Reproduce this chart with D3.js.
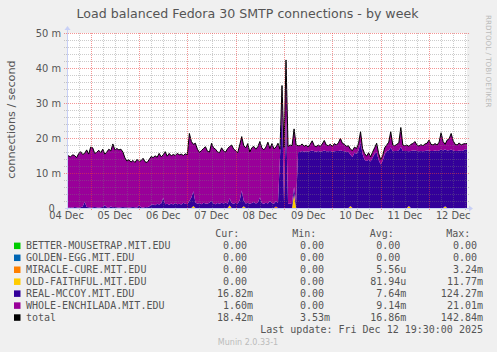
<!DOCTYPE html>
<html><head><meta charset="utf-8">
<script src="https://cdn.jsdelivr.net/npm/d3@7"></script>
<style>
body{margin:0;background:#F0F0F0}
svg{display:block}
text{font-family:"DejaVu Sans",sans-serif}
.mono{font-family:"DejaVu Sans Mono",monospace;white-space:pre}
</style>
</head><body>
<svg id="c" width="497" height="352"></svg>
<script>
// ---- data (hourly samples, index 0 = 2025-12-04 12:00 UTC), values in milli-connections/s ----
const realMccoy = [
0.2,0.1,0.2,0.1,0.3,0.2,0.1,0.2,0.4,1.8,
0.3,0.2,0.1,0.2,0.3,0.2,0.1,0.2,0.3,0.8,
0.2,0.1,0.4,0.2,0.3,0.2,0.1,0.2,0.3,0.2,
0.2,0.1,0.2,0.3,0.2,0.1,0.8,0.2,0.1,0.3,
0.2,0.4,0.9,1.1,0.8,1.2,1.0,1.3,2.9,1.1,
1.2,0.9,1.3,1.0,1.4,1.1,1.2,1.0,1.5,1.2,
1.1,2.0,3.0,4.2,1.6,1.2,1.4,1.1,1.5,1.3,
1.2,1.6,2.0,1.3,1.1,1.4,1.2,1.5,1.3,1.6,
1.2,2.0,1.4,1.2,1.5,1.3,2.2,5.0,1.6,1.3,
1.5,1.2,1.4,1.7,1.3,1.5,3.0,1.4,1.2,1.5,
1.3,2.0,1.4,1.2,1.5,1.5,14.5,30.0,1.5,26.0,
1.2,1.2,1.4,2.0,1.5,16.0,16.0,16.3,16.1,16.2,
16.1,16.3,16.4,16.2,16.1,16.3,16.1,16.2,16.4,16.2,
16.2,16.3,16.1,16.2,16.3,16.3,16.5,16.3,16.2,16.0,
16.1,14.6,14.6,15.8,15.5,16.4,18.8,15.4,13.8,13.4,
13.8,13.3,14.4,15.5,15.9,13.7,12.4,13.5,15.4,16.3,
16.4,17.3,16.2,16.3,16.3,16.4,17.5,16.3,16.3,16.3,
15.6,16.3,16.4,16.4,16.3,16.2,16.3,16.2,16.3,16.4,
16.4,16.3,16.3,16.4,16.3,16.4,16.7,16.4,16.3,16.4,
16.5,16.7,16.4,16.3,16.3,16.4,16.3,16.4,16.8,16.8];
const wholeEnchilada = [
14.9,14.8,14.4,15.1,14.7,14.2,15.4,15.9,14.9,13.8,
16.3,15.2,17.3,17.0,15.3,15.7,16.4,15.6,16.5,14.6,
15.8,16.7,15.9,18.1,16.3,16.8,16.5,16.6,15.7,14.1,
13.2,13.7,12.9,13.3,12.8,13.8,12.5,13.3,14.1,12.9,
12.8,13.4,13.8,13.3,14.1,13.3,14.6,13.3,12.3,15.0,
13.6,14.7,13.6,14.3,13.6,14.5,14.0,14.4,13.5,14.3,
14.1,19.3,16.0,13.4,16.9,15.6,14.5,15.3,15.5,16.2,
15.0,14.4,16.5,15.9,15.7,14.6,14.6,15.7,15.0,14.4,
15.8,14.8,16.6,15.6,14.9,14.5,15.8,15.4,15.7,15.9,
16.9,14.8,15.8,15.9,15.5,16.0,16.0,15.8,15.4,15.9,
17.5,15.0,17.0,15.7,15.5,17.0,2.3,5.0,15.8,16.3,
16.4,16.8,16.4,16.6,16.5,1.8,1.8,2.0,1.5,1.8,
1.3,1.9,2.8,1.6,1.4,1.7,1.5,2.1,2.9,1.8,
1.6,1.9,1.5,2.2,1.7,2.3,3.4,2.2,2.0,1.6,
1.7,1.6,1.8,1.6,1.5,2.0,3.0,1.6,1.8,1.4,
2.0,1.3,1.6,1.7,2.6,1.9,1.4,1.5,1.8,1.7,
2.4,4.5,1.8,1.5,1.9,2.2,5.5,1.7,1.5,1.7,
1.4,1.9,2.0,2.6,1.7,1.5,1.8,1.6,2.0,2.1,
3.0,1.9,1.7,2.0,1.7,2.4,4.8,2.6,1.4,3.0,
3.3,4.6,2.8,1.9,1.7,2.2,1.7,1.9,1.6,1.6];
// sparse series: [sample index, value]
const oldFaithfulSpikes = [[63,0.6],[81,0.8],[88,0.5],[113,4.0],[141,0.6],[170,0.6],[188,0.5]];
const miracleCureSpikes = [[104,0.4]];
const betterMousetrapSpikes = [];
const goldenEggSpikes = [];

const seriesNames = ["BETTER-MOUSETRAP.MIT.EDU","GOLDEN-EGG.MIT.EDU","MIRACLE-CURE.MIT.EDU","OLD-FAITHFUL.MIT.EDU","REAL-MCCOY.MIT.EDU","WHOLE-ENCHILADA.MIT.EDU","total"];
const seriesColors = ["#00CC00","#0066B3","#FF8000","#FFCC00","#330099","#990099","#000000"];
const curVals = ["0.00 ","0.00 ","0.00 ","0.00 ","16.82m","1.60m","18.42m"];
const minVals = ["0.00 ","0.00 ","0.00 ","0.00 ","0.00 ","0.00 ","3.53m"];
const avgVals = ["0.00 ","0.00 ","5.56u","81.94u","7.64m","9.14m","16.86m"];
const maxVals = ["0.00 ","0.00 ","3.24m","11.77m","124.27m","21.01m","142.84m"];
const yTicks = [0,10,20,30,40,50];
const yTickLabels = ["0  ","10 m","20 m","30 m","40 m","50 m"];
const dayLabels = ["04 Dec","05 Dec","06 Dec","07 Dec","08 Dec","09 Dec","10 Dec","11 Dec","12 Dec"];
const titleText = "Load balanced Fedora 30 SMTP connections - by week";
const yTitle = "connections / second";
const lastUpdate = "Last update: Fri Dec 12 19:30:00 2025";

// ---- build table ----
const t0 = Date.UTC(2025,11,4,12,0);
const H = 3600e3;
const n = realMccoy.length;
function dense(sp){ const a=new Array(n).fill(0); sp.forEach(([i,v])=>a[i]=v); return a; }
const bm = dense(betterMousetrapSpikes), ge = dense(goldenEggSpikes), mc = dense(miracleCureSpikes), of = dense(oldFaithfulSpikes);
const keys = ["bm","ge","mc","of","rm","we"];
const rows = d3.range(n).map(i=>({t:new Date(t0+i*H), bm:bm[i], ge:ge[i], mc:mc[i], of:of[i], rm:realMccoy[i], we:wholeEnchilada[i]}));
rows.forEach(r=>r.total = keys.reduce((s,k)=>s+r[k],0));

const svg = d3.select("#c");
const L=67, R=467, T=33, B=208;
const x = d3.scaleUtc().domain([new Date(Date.UTC(2025,11,4,12,14)), new Date(Date.UTC(2025,11,12,18,52))]).range([L,R]);
const y = d3.scaleLinear().domain([0,50]).range([B,T]);

svg.append("rect").attr("x",L).attr("y",T).attr("width",R-L).attr("height",B-T).attr("fill","#fff");
svg.append("clipPath").attr("id","cp").append("rect").attr("x",L).attr("y",T-1).attr("width",R-L).attr("height",B-T+1);

const stack = d3.stack().keys(keys)(rows);
const area = d3.area().x(d=>x(d.data.t)).y0(d=>y(d[0])).y1(d=>y(d[1]));
const g = svg.append("g").attr("clip-path","url(#cp)");
g.selectAll("path.a").data(stack).join("path").attr("class","a")
  .attr("fill",(d,i)=>seriesColors[i]).attr("d",area);
g.append("path").datum(rows).attr("fill","none").attr("stroke","#000").attr("stroke-width",1)
  .attr("d",d3.line().x(d=>x(d.t)).y(d=>y(d.total)));

// ---- grid ----
const grid = svg.append("g");
const minorC="rgba(120,120,120,0.38)", majorC="rgba(235,60,60,0.55)";
const hours6 = d3.utcHour.every(6).range(x.domain()[0], x.domain()[1]);
hours6.forEach(tt=>{
  const major = tt.getUTCHours()===0;
  const xx = Math.round(x(tt))+0.5;
  grid.append("line").attr("x1",xx).attr("x2",xx).attr("y1",T).attr("y2",B+3)
    .attr("stroke",major?majorC:minorC).attr("stroke-dasharray","1,1");
});
d3.range(2,51,2).forEach(v=>{
  const major = v%10===0;
  const yy = Math.round(y(v))+0.5;
  grid.append("line").attr("x1",L-3).attr("x2",R+3).attr("y1",yy).attr("y2",yy)
    .attr("stroke",major?majorC:minorC).attr("stroke-dasharray","1,1");
});

// ---- axes ----
const axC="#C8D0F6";
svg.append("line").attr("x1",L+0.5).attr("x2",L+0.5).attr("y1",B+2).attr("y2",T-4).attr("stroke",axC);
svg.append("path").attr("d",`M${L-2.5},${T-3} L${L+3.5},${T-3} L${L+0.5},${T-7} Z`).attr("fill",axC);
svg.append("line").attr("x1",L-2).attr("x2",R+3).attr("y1",B+0.5).attr("y2",B+0.5).attr("stroke",axC);
svg.append("path").attr("d",`M${R+2},${B-2.5} L${R+2},${B+3.5} L${R+6},${B+0.5} Z`).attr("fill",axC);

const fc="#555";
svg.selectAll("text.yt").data(yTicks).join("text").attr("class","yt")
  .attr("x",61).attr("y",d=>y(d)+3.6).attr("text-anchor","end").attr("font-size",9.9).attr("fill",fc)
  .style("white-space","pre")
  .text((d,i)=>yTickLabels[i]);
const noons = d3.range(dayLabels.length).map(k=>new Date(Date.UTC(2025,11,4+k,12,0)));
svg.selectAll("text.xt").data(noons).join("text").attr("class","xt")
  .attr("x",d=>x(d)).attr("y",219.3).attr("text-anchor","middle").attr("font-size",9.8).attr("fill",fc)
  .text((d,i)=>dayLabels[i]);

svg.append("text").attr("x",247.5).attr("y",18.3).attr("text-anchor","middle").attr("font-size",12.6).attr("fill",fc).text(titleText);
svg.append("text").attr("transform","translate(15.2,119.5) rotate(-90)").attr("text-anchor","middle").attr("font-size",11.2).attr("fill",fc).text(yTitle);
svg.append("text").attr("transform","translate(486.3,15) rotate(90)").attr("font-size",7.2).attr("fill","#bbb").text("RRDTOOL / TOBI OETIKER");

// ---- legend ----
const lg = svg.append("g").attr("class","mono").attr("font-size",10).attr("fill",fc);
const hdr = [["Cur:",215.3],["Min:",292.3],["Avg:",369.8],["Max:",446.2]];
hdr.forEach(([s,xx])=>lg.append("text").attr("class","mono").attr("x",xx).attr("y",237).text(s));
seriesNames.forEach((nm,i)=>{
  const by = 249.4 + i*11.95;
  svg.append("rect").attr("x",14).attr("y",by-6.8).attr("width",6.5).attr("height",6.5).attr("fill",seriesColors[i]);
  lg.append("text").attr("class","mono").attr("x",26).attr("y",by).text(nm);
  [[curVals,253],[minVals,330],[avgVals,406.3],[maxVals,483]].forEach(([arr,xx])=>
    lg.append("text").attr("class","mono").attr("x",xx).attr("y",by).attr("text-anchor","end").text(arr[i]));
});
lg.append("text").attr("class","mono").attr("x",483).attr("y",333.3).attr("text-anchor","end").text(lastUpdate);
svg.append("text").attr("x",248).attr("y",344.6).attr("text-anchor","middle").attr("font-size",8).attr("fill","#bbb").text("Munin 2.0.33-1");
</script>
</body></html>
